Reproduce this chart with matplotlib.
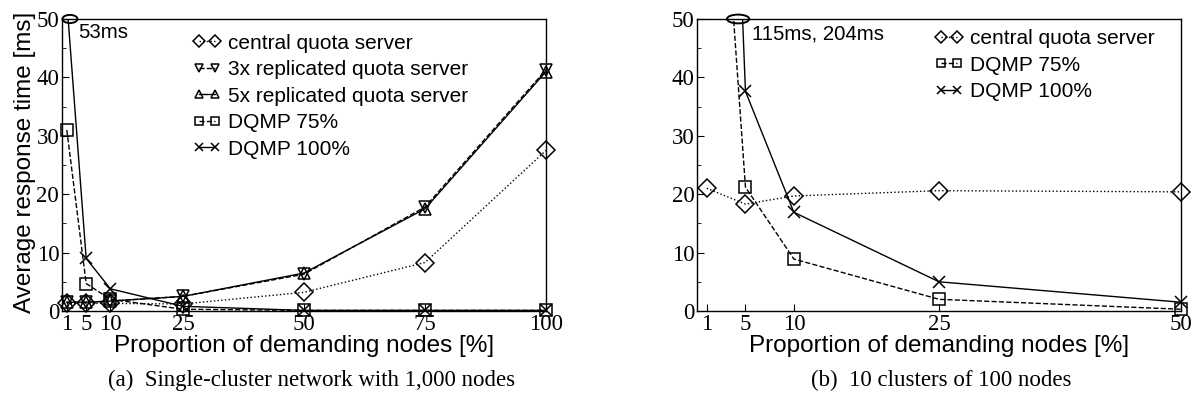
import matplotlib
matplotlib.use("Agg")
import matplotlib.pyplot as plt
from matplotlib.patches import Ellipse
from matplotlib.transforms import Bbox, TransformedBbox

# (a) single cluster, 1,000 nodes
x_a = [1, 5, 10, 25, 50, 75, 100]
central_a = [1.3, 1.3, 1.3, 1.2, 3.2, 8.3, 27.5]
rep3_a = [1.5, 1.5, 1.7, 2.5, 6.3, 17.8, 41.3]
rep5_a = [1.5, 1.5, 1.7, 2.5, 6.5, 17.5, 41.0]
dqmp75_a = [31.0, 4.7, 2.0, 0.3, 0.1, 0.1, 0.1]
dqmp100_a = [53.0, 9.0, 3.8, 0.8, 0.1, 0.1, 0.1]

# (b) 10 clusters of 100 nodes
x_b = [1, 5, 10, 25, 50]
central_b = [21.0, 18.3, 19.7, 20.6, 20.4]
dqmp75_b = [115.0, 21.2, 8.9, 2.0, 0.3]
dqmp100_b = [204.0, 37.6, 16.9, 5.0, 1.5]

SANS = "Liberation Sans"
SERIF = "Liberation Serif"

fig = plt.figure(figsize=(11.94, 4.03), dpi=100)
ax1 = fig.add_axes([0.0519, 0.2283, 0.4054, 0.7246])
ax2 = fig.add_axes([0.5838, 0.2283, 0.4054, 0.7246])

mk = dict(markersize=9, markerfacecolor="none", markeredgecolor="black",
          markeredgewidth=1.1, color="black", linewidth=1.0)


def clip_lines(ax):
    # let markers sitting on the x axis show in full, but cut lines at the top
    box = TransformedBbox(Bbox([[-0.05, -0.05], [1.05, 1.0]]), ax.transAxes)
    for ln in ax.lines:
        ln.set_clip_box(box)


ax1.plot(x_a, central_a, ls=":", marker="D", label="central quota server", **mk)
ax1.plot(x_a, rep3_a, ls="--", marker="v", label="3x replicated quota server", **mk)
ax1.plot(x_a, rep5_a, ls="-", marker="^", label="5x replicated quota server", **mk)
ax1.plot(x_a, dqmp75_a, ls="--", marker="s", label="DQMP 75%", **mk)
ax1.plot(x_a, dqmp100_a, ls="-", marker="x", label="DQMP 100%", **mk)
clip_lines(ax1)

ax2.plot(x_b, central_b, ls=":", marker="D", label="central quota server", **mk)
ax2.plot(x_b, dqmp75_b, ls="--", marker="s", label="DQMP 75%", **mk)
ax2.plot(x_b, dqmp100_b, ls="-", marker="x", label="DQMP 100%", **mk)
clip_lines(ax2)

ax1.set_xlim(0, 100)
ax2.set_xlim(0, 50)

for ax, xt in ((ax1, x_a), (ax2, x_b)):
    ax.set_ylim(0, 50)
    ax.set_xticks(xt)
    ax.set_yticks([0, 10, 20, 30, 40, 50])
    ax.set_yticks([5, 15, 25, 35, 45], minor=True)
    ax.tick_params(axis="both", which="major", direction="in", length=5,
                   labelsize=16.5, pad=2)
    ax.tick_params(axis="y", which="minor", direction="in", length=3)
    for lab in ax.get_xticklabels() + ax.get_yticklabels():
        lab.set_fontfamily(SERIF)
    for s in ax.spines.values():
        s.set_linewidth(1.0)
    ax.set_xlabel("Proportion of demanding nodes [%]", fontfamily=SANS,
                  fontsize=17.5, labelpad=0)

leg_kw = dict(loc="upper left", frameon=False, numpoints=2, handlelength=1.35,
              handletextpad=0.3, labelspacing=0.36, borderpad=0,
              borderaxespad=0, markerscale=0.65,
              prop={"family": SANS, "size": 15})
ax1.legend(bbox_to_anchor=(0.271, 0.95), **leg_kw)
ax2.legend(bbox_to_anchor=(0.492, 0.965), **leg_kw)

ax1.set_ylabel("Average response time [ms]", fontfamily=SANS, fontsize=17.5)
ax1.yaxis.set_label_coords(-0.054, 0.51)

ax1.add_patch(Ellipse((1.65, 50), 3.1, 1.4, fill=False, lw=1.4, ec="black", clip_on=False))
ax1.text(3.3, 47.6, "53ms", fontfamily=SANS, fontsize=14.7, va="center")
ax2.add_patch(Ellipse((4.24, 50), 2.3, 1.5, fill=False, lw=1.4, ec="black", clip_on=False))
ax2.text(5.7, 47.4, "115ms, 204ms", fontfamily=SANS, fontsize=14.7, va="center")

fig.text(0.261, 0.057, "(a)  Single-cluster network with 1,000 nodes",
         fontfamily=SERIF, fontsize=16.5, ha="center", va="center")
fig.text(0.788, 0.057, "(b)  10 clusters of 100 nodes",
         fontfamily=SERIF, fontsize=16.5, ha="center", va="center")

fig.savefig("out.png", dpi=100)
